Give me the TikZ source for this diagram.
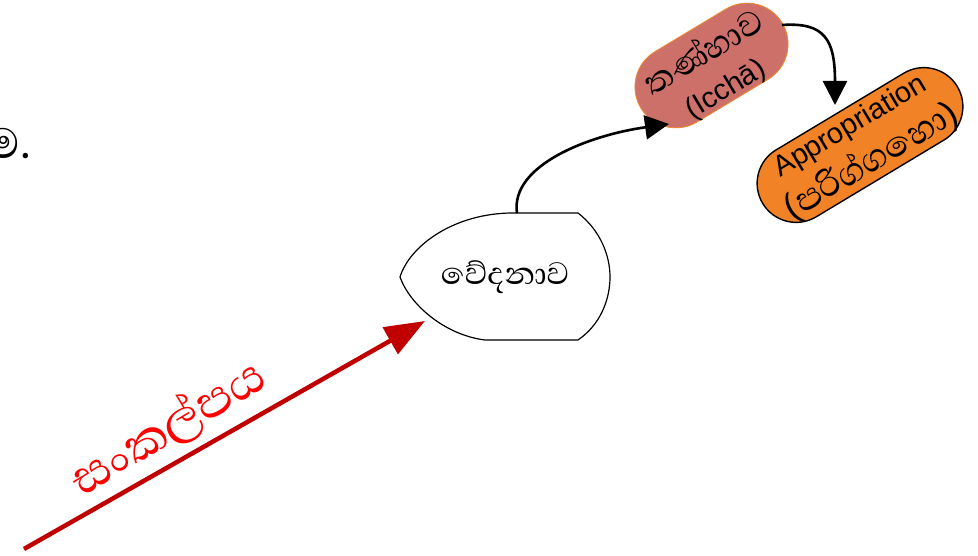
\documentclass[tikz,border=0pt]{standalone}
\usepackage{fontspec}
\setmainfont{Liberation Sans}
\newfontfamily\sinhfont[Script=Sinhala,Scale=1.5]{Abhaya Libre}
\usetikzlibrary{arrows.meta}
\definecolor{pinkfill}{HTML}{CD706A}
\definecolor{pinkedge}{HTML}{F08A2E}
\definecolor{orfill}{HTML}{F28226}
\definecolor{arrred}{HTML}{C00000}
\tikzset{
  pillshape/.style={draw, inner sep=0pt},
  pilltext/.style={align=center, inner sep=0pt},
  blk/.style={line width=2.6pt, -{Triangle[length=24pt,width=24pt]}},
  redarr/.style={arrred, line width=4.5pt, -{Triangle[length=40pt,width=30pt]}},
}
\begin{document}
\begin{tikzpicture}[x=1pt,y=-1pt]
\useasboundingbox (0,0) rectangle (978,556);
% partial text at left edge
\node[anchor=base east, font=\sinhfont\fontsize{36}{40}\selectfont, inner sep=0pt] (cut) at (31,159) {ම.};
% vedana shape
\draw[line width=1.2pt, fill=white] (513,213) -- (578,213)
  .. controls (600,230) and (610,255) .. (610,277)
  .. controls (610,300) and (600,325) .. (578,340)
  -- (485,340)
  .. controls (445,335) and (410,305) .. (400,277)
  .. controls (410,245) and (455,213) .. (513,213) -- cycle;
\node[font=\sinhfont\fontsize{26.5}{30}\selectfont] (ved) at (505,277) {වේදනාව};
\coordinate (vedtop) at (517,213);
\coordinate (vedsw) at (425,321);
\coordinate (start) at (24,549);
% tanha pill
\node[pillshape, rotate=31, minimum width=165pt, minimum height=82pt, rounded corners=41pt,
  fill=pinkfill, draw=pinkedge, line width=0.8pt] (tan) at (711.5,65.5) {};
\node[pilltext, rotate=31, font=\fontsize{29}{40}\selectfont] (tantext) at (714,70)
  {{\sinhfont\fontsize{29}{30}\selectfont තණ්හාව}\\(Icchā)};
\coordinate (tansw) at (669,124);
\coordinate (tanne) at (782,25);
% appropriation pill
\node[pillshape, rotate=31, minimum width=227pt, minimum height=78pt, rounded corners=39pt,
  fill=orfill, draw=black, line width=1.4pt] (app) at (860,145) {};
\node[pilltext, rotate=31, font=\fontsize{29}{43}\selectfont] (apptext) at (862,146)
  {Appropriation\\{\fontsize{36}{40}\selectfont(}{\sinhfont\fontsize{30}{36}\selectfont පරිග්ගහො}{\fontsize{36}{40}\selectfont)}};
\coordinate (appn) at (835,105);
% connectors
\draw[redarr] (start) -- (vedsw);
\node[text=red, rotate=31, font=\sinhfont\fontsize{41}{44}\selectfont] (lbl) at (168,428) {සංකල්පය};
\draw[blk] (vedtop) .. controls (510,165) and (590,135) .. (tansw);
\draw[blk] (tanne) .. controls (825,22) and (835,40) .. (appn);
\end{tikzpicture}
\end{document}
